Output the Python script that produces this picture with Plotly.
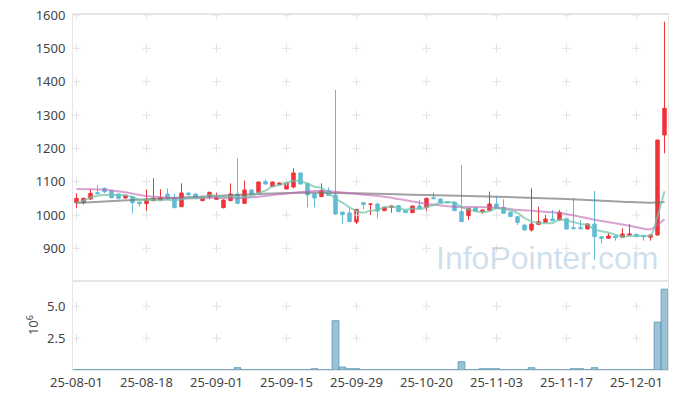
import plotly.graph_objects as go
from plotly.subplots import make_subplots

dates = [
    "2025-08-01", "2025-08-04", "2025-08-05", "2025-08-06", "2025-08-07", "2025-08-08",
    "2025-08-11", "2025-08-12", "2025-08-13", "2025-08-14", "2025-08-18", "2025-08-19",
    "2025-08-20", "2025-08-21", "2025-08-22", "2025-08-25", "2025-08-26", "2025-08-27",
    "2025-08-28", "2025-08-29",
    "2025-09-01", "2025-09-02", "2025-09-03", "2025-09-04", "2025-09-05", "2025-09-08",
    "2025-09-09", "2025-09-10", "2025-09-11", "2025-09-12", "2025-09-15", "2025-09-16",
    "2025-09-17", "2025-09-18", "2025-09-19", "2025-09-22", "2025-09-23", "2025-09-24",
    "2025-09-25", "2025-09-26", "2025-09-29", "2025-09-30",
    "2025-10-01", "2025-10-02", "2025-10-10", "2025-10-13", "2025-10-14", "2025-10-15",
    "2025-10-16", "2025-10-17", "2025-10-20", "2025-10-21", "2025-10-22", "2025-10-23",
    "2025-10-24", "2025-10-27", "2025-10-28", "2025-10-29", "2025-10-30", "2025-10-31",
    "2025-11-03", "2025-11-04", "2025-11-05", "2025-11-06", "2025-11-07", "2025-11-10",
    "2025-11-11", "2025-11-12", "2025-11-13", "2025-11-14", "2025-11-17", "2025-11-18",
    "2025-11-19", "2025-11-20", "2025-11-21", "2025-11-24", "2025-11-25", "2025-11-26",
    "2025-11-27", "2025-11-28",
    "2025-12-01", "2025-12-02", "2025-12-03", "2025-12-04", "2025-12-05",
]

opens = [1037, 1038, 1048, 1067, 1080, 1072, 1063, 1051, 1055, 1039,
         1034, 1043, 1045, 1063, 1052, 1025, 1066, 1063, 1043, 1055,
         1047, 1022, 1043, 1063, 1035, 1075, 1067, 1100, 1085, 1091,
         1078, 1084, 1126, 1095, 1063, 1055, 1073, 1060, 1009, 1006,
         979, 1037, 1032, 1033, 1013, 1023, 1028, 1014, 1007, 1027,
         1023, 1052, 1048, 1040, 1038, 1010, 998, 1021, 1010, 1013,
         1033, 1023, 1008, 995, 970, 955, 972, 978, 988, 985,
         990, 962, 962, 958, 973, 935, 930, 937, 933, 940,
         942, 938, 933, 940, 1240]
highs = [1065, 1052, 1077, 1090, 1083, 1074, 1064, 1060, 1057, 1040,
         1077, 1110, 1077, 1080, 1065, 1095, 1068, 1064, 1053, 1070,
         1067, 1047, 1095, 1170, 1103, 1077, 1100, 1107, 1100, 1098,
         1097, 1140, 1127, 1096, 1064, 1095, 1083, 1375, 1010, 1020,
         1018, 1039, 1034, 1037, 1024, 1028, 1030, 1015, 1028, 1045,
         1052, 1068, 1050, 1041, 1042, 1150, 1021, 1024, 1016, 1070,
         1055, 1047, 1010, 997, 971, 1080, 1025, 1000, 1015, 1015,
         1015, 1050, 985, 975, 1072, 937, 945, 938, 960, 973,
         944, 939, 941, 1225, 1580]
lows = [1020, 1032, 1046, 1063, 1065, 1050, 1047, 1049, 1005, 1025,
        1010, 1042, 1044, 1046, 1021, 1024, 1055, 1051, 1042, 1047,
        1046, 1020, 1042, 1034, 1034, 1062, 1066, 1092, 1084, 1090,
        1077, 1080, 1092, 1023, 1023, 1054, 1058, 1000, 973, 979,
        973, 1017, 1000, 990, 1012, 1007, 1009, 1006, 1006, 1018,
        1010, 1048, 1036, 1036, 1012, 979, 985, 1010, 1004, 1012,
        1019, 1004, 994, 970, 954, 950, 971, 977, 982, 984,
        957, 958, 958, 957, 865, 915, 929, 923, 932, 939,
        934, 923, 923, 938, 1185]
closes = [1050, 1050, 1065, 1064, 1070, 1052, 1050, 1059, 1037, 1034,
          1047, 1049, 1052, 1048, 1022, 1066, 1061, 1052, 1052, 1068,
          1052, 1045, 1063, 1035, 1075, 1063, 1099, 1093, 1099, 1096,
          1096, 1126, 1093, 1060, 1051, 1073, 1059, 1003, 1001, 980,
          1017, 1032, 1033, 1012, 1023, 1027, 1010, 1007, 1027, 1019,
          1050, 1049, 1037, 1037, 1013, 980, 1020, 1011, 1015, 1033,
          1020, 1005, 995, 978, 955, 973, 980, 988, 983, 1008,
          958, 959, 959, 973, 935, 930, 937, 932, 943, 943,
          935, 935, 940, 1225, 1320]

# short moving average (teal), one value per day
ma_short = [1037, 1043, 1052, 1058, 1060, 1060, 1060, 1059, 1054, 1046,
            1045, 1045, 1044, 1046, 1044, 1047, 1050, 1050, 1051, 1060,
            1057, 1054, 1056, 1053, 1054, 1056, 1067, 1073, 1086, 1090,
            1097, 1102, 1102, 1094, 1085, 1081, 1067, 1049, 1037, 1023,
            1012, 1007, 1013, 1015, 1023, 1025, 1021, 1016, 1019, 1018,
            1023, 1030, 1036, 1038, 1037, 1023, 1017, 1012, 1008, 1012,
            1020, 1017, 1014, 1006, 991, 981, 976, 975, 976, 986,
            983, 979, 973, 971, 957, 951, 947, 941, 935, 937,
            938, 938, 939, 996, 1071]

# mid moving average (pink), read at sample days
ma_mid_idx = [0, 4, 7, 10, 13, 16, 19, 24, 29, 34, 37, 41, 44, 49, 54, 59, 64, 69, 74, 79, 82, 83, 84]
ma_mid = [1078, 1076, 1068, 1057, 1052, 1050, 1052, 1051, 1062, 1072, 1070, 1061, 1055, 1037,
          1025, 1023, 1014, 1006, 986, 968, 957, 970, 988]

# long moving average (gray), read at sample days
ma_long_idx = [0, 10, 20, 30, 40, 50, 60, 70, 78, 82, 84]
ma_long = [1036, 1047, 1057, 1066, 1065, 1060, 1055, 1048, 1040, 1037, 1039]

# volume, millions of shares
volume_m = [0.02, 0.02, 0.02, 0.02, 0.02, 0.02, 0.02, 0.02, 0.02, 0.02,
            0.02, 0.02, 0.02, 0.02, 0.02, 0.02, 0.02, 0.02, 0.02, 0.02,
            0.02, 0.02, 0.02, 0.18, 0.02, 0.02, 0.02, 0.02, 0.02, 0.02,
            0.02, 0.02, 0.02, 0.02, 0.10, 0.02, 0.02, 3.86, 0.23, 0.10,
            0.10, 0.02, 0.02, 0.02, 0.02, 0.02, 0.02, 0.02, 0.02, 0.02,
            0.02, 0.02, 0.02, 0.02, 0.02, 0.65, 0.02, 0.02, 0.10, 0.10,
            0.10, 0.02, 0.02, 0.02, 0.02, 0.18, 0.02, 0.02, 0.02, 0.02,
            0.02, 0.10, 0.10, 0.02, 0.18, 0.02, 0.02, 0.02, 0.02, 0.02,
            0.02, 0.02, 0.02, 3.75, 6.33]

tick_idx = [0, 10, 20, 30, 40, 50, 60, 70, 80]
tick_labels = ["25-08-01", "25-08-18", "25-09-01", "25-09-15", "25-09-29",
               "25-10-20", "25-11-03", "25-11-17", "25-12-01"]
price_ticks = [900, 1000, 1100, 1200, 1300, 1400, 1500, 1600]
vol_ticks = [2.5, 5.0]

FONT = "Noto Sans"
RED = "#ef3438"
BLUE = "#5fbbd6"
GRID = "#e2e2e2"
AXLINE = "#e6e6e6"

tick_dates = [dates[i] for i in tick_idx]

fig = make_subplots(rows=2, cols=1, shared_xaxes=True, vertical_spacing=0,
                    row_heights=[0.75, 0.25])

# grid crosses
fig.add_trace(go.Scatter(
    x=[d for d in tick_dates for _ in price_ticks],
    y=[p for _ in tick_dates for p in price_ticks],
    mode="markers", hoverinfo="skip", showlegend=False,
    marker=dict(symbol="cross-thin", size=6, line=dict(width=1, color=GRID)),
), row=1, col=1)
fig.add_trace(go.Scatter(
    x=[d for d in tick_dates for _ in vol_ticks],
    y=[v for _ in tick_dates for v in vol_ticks],
    mode="markers", hoverinfo="skip", showlegend=False,
    marker=dict(symbol="cross-thin", size=6, line=dict(width=1, color=GRID)),
), row=2, col=1)

fig.add_trace(go.Candlestick(
    x=dates, open=opens, high=highs, low=lows, close=closes,
    increasing=dict(line=dict(color=RED, width=1), fillcolor=RED),
    decreasing=dict(line=dict(color=BLUE, width=1), fillcolor=BLUE),
    whiskerwidth=0, showlegend=False, hoverinfo="skip",
), row=1, col=1)

fig.add_trace(go.Scatter(
    x=[dates[i] for i in ma_long_idx], y=ma_long, mode="lines",
    line=dict(color="rgba(110,110,110,0.65)", width=2, shape="spline"),
    hoverinfo="skip", showlegend=False,
), row=1, col=1)
fig.add_trace(go.Scatter(
    x=[dates[i] for i in ma_mid_idx], y=ma_mid, mode="lines",
    line=dict(color="rgba(190,100,180,0.6)", width=2, shape="spline"),
    hoverinfo="skip", showlegend=False,
), row=1, col=1)
fig.add_trace(go.Scatter(
    x=dates, y=ma_short, mode="lines",
    line=dict(color="rgba(110,195,170,0.7)", width=2, shape="spline"),
    hoverinfo="skip", showlegend=False,
), row=1, col=1)

fig.add_trace(go.Bar(
    x=dates, y=volume_m,
    marker=dict(color="rgba(130,180,205,0.8)",
                line=dict(color="rgba(100,155,185,0.9)", width=1)),
    hoverinfo="skip", showlegend=False,
), row=2, col=1)

tickfont = dict(family=FONT, size=13, color="#444444")

fig.update_xaxes(type="category", categoryorder="array", categoryarray=dates,
                 range=[-0.5, 84.5], autorange=False, showgrid=False, zeroline=False,
                 showline=True, mirror=True, linecolor=AXLINE, linewidth=1,
                 tickvals=tick_dates, ticktext=tick_labels, tickfont=tickfont,
                 ticks="", automargin=False)
fig.update_xaxes(showticklabels=False, row=1, col=1)
fig.update_layout(xaxis_rangeslider_visible=False, xaxis2_rangeslider_visible=False)

fig.update_yaxes(range=[802, 1603], autorange=False, tickvals=price_ticks,
                 showgrid=False, zeroline=False, showline=True, mirror=True,
                 linecolor=AXLINE, linewidth=1, tickfont=tickfont,
                 ticks="outside", ticklen=4, tickcolor="rgba(0,0,0,0)",
                 automargin=False, row=1, col=1)
fig.update_yaxes(range=[0, 6.97], autorange=False, tickvals=vol_ticks, ticktext=["2.5", "5.0"],
                 showgrid=False, zeroline=False, showline=True, mirror=True,
                 linecolor=AXLINE, linewidth=1, tickfont=tickfont,
                 ticks="outside", ticklen=4, tickcolor="rgba(0,0,0,0)",
                 automargin=False, row=2, col=1)

# volume unit label (axis title)
fig.add_annotation(
    text="10<sup>6</sup>", xref="paper", yref="paper",
    x=-0.069, y=0.126, xanchor="center", yanchor="middle", textangle=-90,
    showarrow=False, font=dict(family=FONT, size=13, color="#444444"),
)

# top border and panel divider (slightly heavier)
fig.add_shape(type="line", xref="paper", yref="paper", x0=0, x1=1, y0=1, y1=1,
              line=dict(color=AXLINE, width=2))
fig.add_shape(type="line", xref="paper", yref="paper", x0=0, x1=1, y0=0.25, y1=0.25,
              line=dict(color=AXLINE, width=2))

fig.add_annotation(
    text="InfoPointer.com", xref="paper", yref="paper",
    x=0.987, y=0.315, xanchor="right", yanchor="middle", showarrow=False,
    font=dict(family="Liberation Sans", size=32, color="rgba(165,198,220,0.55)"),
)

fig.update_layout(
    width=677, height=399,
    margin=dict(l=73, r=9, t=14, b=29, autoexpand=False),
    paper_bgcolor="white", plot_bgcolor="white",
    bargap=0.03, showlegend=False, hovermode=False,
    font=dict(family=FONT, size=13, color="#444444"),
)

fig.write_html("out.html", config={"displayModeBar": False, "staticPlot": True},
               post_script="document.body.style.margin='0';document.body.style.overflow='hidden';")
